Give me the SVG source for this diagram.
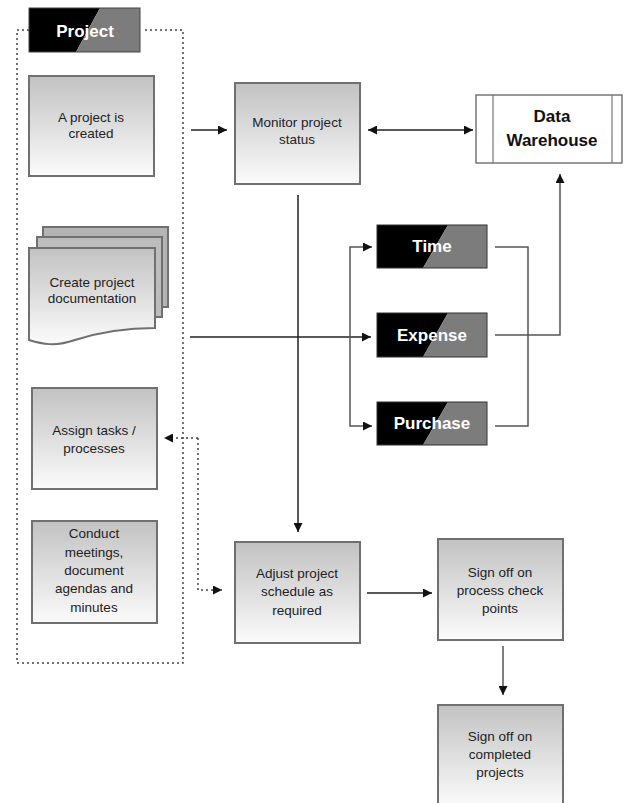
<svg xmlns="http://www.w3.org/2000/svg" width="624" height="803" viewBox="0 0 624 803">
<defs>
<linearGradient id="g" x1="0" y1="0" x2="0" y2="1">
<stop offset="0" stop-color="#c2c2c2"/>
<stop offset="1" stop-color="#fbfbfb"/>
</linearGradient>
<marker id="a" viewBox="0 0 10 10" refX="10" refY="5" markerWidth="9" markerHeight="9" markerUnits="userSpaceOnUse" orient="auto-start-reverse">
<path d="M0,0 L10,5 L0,10 z" fill="#111"/>
</marker>
</defs>
<style>
.box{fill:url(#g);stroke:#707070;stroke-width:2}
.t{font-family:"Liberation Sans",Arial,sans-serif;font-size:13.5px;fill:#222;text-anchor:middle}
.b{font-family:"Liberation Sans",Arial,sans-serif;font-weight:bold;font-size:17px;fill:#fff;text-anchor:middle}
.dk{fill:#000}
.gr{fill:#7c7c7c}
.c{fill:none;stroke:#222;stroke-width:1.5}
.c2{fill:none;stroke:#555;stroke-width:1.5}
.d{fill:none;stroke:#444;stroke-width:1.5;stroke-dasharray:2 3}
</style>
<g id="boundary">
<path class="d" d="M29,30 H17 V663 H183 V30 H144"/>
</g>
<g id="project">
<polygon class="dk" points="29,8 100,8 76,52 29,52"/>
<polygon class="gr" points="100,8 140,8 140,52 76,52"/>
<rect x="29" y="8" width="111" height="44" fill="none" stroke="#444" stroke-width="1"/>
<text class="b" x="85" y="37">Project</text>
</g>
<g id="created">
<rect class="box" x="29" y="76" width="125" height="100"/>
<text class="t" x="91" y="122">A project is</text>
<text class="t" x="91" y="138">created</text>
</g>
<g id="docs">
<rect class="box" x="43" y="227" width="125" height="80" fill="#b8b8b8" style="fill:#b4b4b4"/>
<rect class="box" x="37" y="237" width="125" height="80" style="fill:#bdbdbd"/>
<path class="box" d="M29,248 H155 V328 C125,328 100,332 75,340 C55,347 42,344 29,340 Z"/>
<text class="t" x="92" y="287">Create project</text>
<text class="t" x="92" y="303">documentation</text>
</g>
<g id="assign">
<rect class="box" x="32" y="388" width="125" height="101"/>
<text class="t" x="94" y="435">Assign tasks /</text>
<text class="t" x="94" y="453">processes</text>
</g>
<g id="meetings">
<rect class="box" x="32" y="521" width="125" height="102"/>
<text class="t" x="94" y="538">Conduct</text>
<text class="t" x="94" y="557">meetings,</text>
<text class="t" x="94" y="575">document</text>
<text class="t" x="94" y="593">agendas and</text>
<text class="t" x="94" y="612">minutes</text>
</g>
<g id="monitor">
<rect class="box" x="235" y="83" width="125" height="101"/>
<text class="t" x="297" y="127">Monitor project</text>
<text class="t" x="297" y="144">status</text>
</g>
<g id="warehouse">
<rect x="476" y="95" width="146" height="68" fill="#fff" stroke="#777" stroke-width="1.5"/>
<line x1="493" y1="95" x2="493" y2="163" stroke="#777" stroke-width="1.2"/>
<line x1="612" y1="95" x2="612" y2="163" stroke="#777" stroke-width="1.2"/>
<text class="b" x="552" y="122" style="fill:#111">Data</text>
<text class="b" x="552" y="146" style="fill:#111">Warehouse</text>
</g>
<g id="time">
<polygon class="dk" points="377,225 448,225 423,268 377,268"/>
<polygon class="gr" points="448,225 487,225 487,268 423,268"/>
<rect x="377" y="225" width="110" height="43" fill="none" stroke="#333" stroke-width="1"/>
<text class="b" x="432" y="252">Time</text>
</g>
<g id="expense">
<polygon class="dk" points="377,313 448,313 423,357 377,357"/>
<polygon class="gr" points="448,313 487,313 487,357 423,357"/>
<rect x="377" y="313" width="110" height="44" fill="none" stroke="#333" stroke-width="1"/>
<text class="b" x="432" y="341">Expense</text>
</g>
<g id="purchase">
<polygon class="dk" points="377,402 448,402 423,445 377,445"/>
<polygon class="gr" points="448,402 487,402 487,445 423,445"/>
<rect x="377" y="402" width="110" height="43" fill="none" stroke="#333" stroke-width="1"/>
<text class="b" x="432" y="429">Purchase</text>
</g>
<g id="adjust">
<rect class="box" x="235" y="542" width="125" height="101"/>
<text class="t" x="297" y="578">Adjust project</text>
<text class="t" x="297" y="596">schedule as</text>
<text class="t" x="297" y="615">required</text>
</g>
<g id="signoff">
<rect class="box" x="438" y="539" width="125" height="101"/>
<text class="t" x="500" y="577">Sign off on</text>
<text class="t" x="500" y="595">process check</text>
<text class="t" x="500" y="613">points</text>
</g>
<g id="completed">
<rect class="box" x="438" y="705" width="125" height="102"/>
<text class="t" x="500" y="741">Sign off on</text>
<text class="t" x="500" y="759">completed</text>
<text class="t" x="500" y="777">projects</text>
</g>
<g id="connectors">
<path class="c" d="M191,130 H227" marker-end="url(#a)"/>
<path class="c" d="M368,130 H473" marker-start="url(#a)" marker-end="url(#a)"/>
<path class="c" d="M298,195 V532" marker-end="url(#a)"/>
<path class="c" d="M190,337 H371" marker-end="url(#a)"/>
<path class="c2" d="M350,336 V247 H372" marker-end="url(#a)"/>
<path class="c2" d="M350,336 V426 H372" marker-end="url(#a)"/>
<path class="c2" d="M495,247 H528 V426 H495"/>
<path class="c2" d="M495,335 H560 V174" marker-end="url(#a)"/>
<path class="c" d="M367,593 H432" marker-end="url(#a)"/>
<path class="c2" d="M503,646 V695" marker-end="url(#a)"/>
<path class="d" d="M198,438 H164" marker-end="url(#a)"/>
<path class="d" d="M198,438 V590 H222" marker-end="url(#a)"/>
</g>
</svg>
